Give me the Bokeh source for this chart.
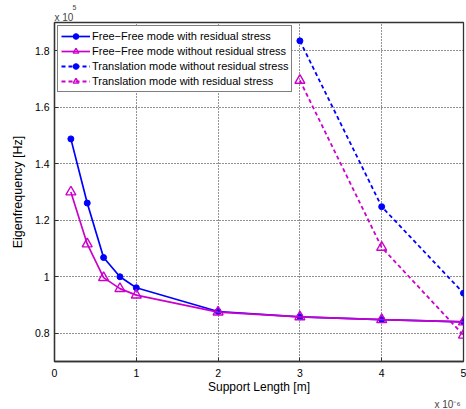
from bokeh.plotting import figure
from bokeh.models import Legend, LegendItem, Title, FixedTicker
from bokeh.embed import file_html
from bokeh.resources import INLINE

# Support length in units of 1e-6 m, eigenfrequency in units of 1e5 Hz
x_ff = [0.2, 0.4, 0.6, 0.8, 1.0, 2.0, 3.0, 4.0, 5.0]
ff_with = [1.488, 1.261, 1.068, 1.000, 0.961, 0.877, 0.858, 0.848, 0.840]
ff_without = [1.300, 1.116, 0.997, 0.958, 0.935, 0.875, 0.858, 0.848, 0.840]
x_tr = [3.0, 4.0, 5.0]
tr_without = [1.835, 1.248, 0.942]
tr_with = [1.695, 1.104, 0.793]

x_ticks = [0, 1, 2, 3, 4, 5]
y_ticks = [0.8, 1.0, 1.2, 1.4, 1.6, 1.8]
y_tick_labels = ["0.8", "1", "1.2", "1.4", "1.6", "1.8"]

labels = ["Free\u2212Free mode with residual stress",
          "Free\u2212Free mode without residual stress",
          "Translation mode without residual stress",
          "Translation mode with residual stress"]

BLUE = "#0000ff"
MAG = "#cc00cc"
FONT = "Liberation Sans"

p = figure(width=466, height=409, x_range=(0, 5), y_range=(0.7, 1.9),
           output_backend="svg", toolbar_location=None, title=None,
           min_border_left=54, min_border_right=3, min_border_top=22, min_border_bottom=43)
p.background_fill_color = "white"
p.border_fill_color = "white"
p.outline_line_color = "#333333"
p.outline_line_width = 1.3

p.xaxis.ticker = FixedTicker(ticks=x_ticks)
p.yaxis.ticker = FixedTicker(ticks=y_ticks)
p.yaxis.major_label_overrides = {t: l for t, l in zip(y_ticks, y_tick_labels)}
for ax in (p.xaxis, p.yaxis):
    ax.major_tick_in = 4
    ax.major_tick_out = 0
    ax.minor_tick_in = 0
    ax.minor_tick_out = 0
    ax.axis_line_color = "#333333"
    ax.axis_line_width = 1.3
    ax.major_tick_line_color = "#333333"
    ax.major_label_text_font = FONT
    ax.major_label_text_font_size = "10.5px"
    ax.major_label_text_color = "black"
    ax.axis_label_text_font = FONT
    ax.axis_label_text_font_size = "12px"
    ax.axis_label_text_font_style = "normal"
    ax.axis_label_text_color = "black"
p.xaxis.axis_label = "Support Length [m]"
p.yaxis.axis_label = "Eigenfrequency [Hz]"
p.yaxis.axis_label_text_font_size = "12.5px"
p.xaxis.major_label_standoff = 7
p.yaxis.major_label_standoff = 5
p.xaxis.axis_label_standoff = 0
p.yaxis.axis_label_standoff = 7

p.grid.grid_line_color = "black"
p.grid.grid_line_dash = "1 2"
p.grid.grid_line_alpha = 0.85

l1 = p.line(x_ff, ff_with, line_color=BLUE, line_width=1.7)
s1 = p.scatter(x_ff, ff_with, marker="circle", size=6, fill_color=BLUE, line_color=BLUE)
l2 = p.line(x_ff, ff_without, line_color=MAG, line_width=1.7)
s2 = p.scatter(x_ff, ff_without, marker="triangle", size=10, fill_color=None, line_color=MAG, line_width=1.4)
l3 = p.line(x_tr, tr_without, line_color=BLUE, line_width=1.8, line_dash="4 3")
s3 = p.scatter(x_tr, tr_without, marker="circle", size=6, fill_color=BLUE, line_color=BLUE)
l4 = p.line(x_tr, tr_with, line_color=MAG, line_width=1.8, line_dash="4 3")
s4 = p.scatter(x_tr, tr_with, marker="triangle", size=10, fill_color=None, line_color=MAG, line_width=1.4)

legend = Legend(items=[LegendItem(label=labels[0], renderers=[l1, s1]),
                       LegendItem(label=labels[1], renderers=[l2, s2]),
                       LegendItem(label=labels[2], renderers=[l3, s3]),
                       LegendItem(label=labels[3], renderers=[l4, s4])],
                location="top_left")
legend.margin = 3
legend.padding = 3
legend.spacing = 1
legend.label_height = 14
legend.glyph_height = 14
legend.glyph_width = 29
legend.label_standoff = 2
legend.label_text_font = FONT
legend.label_text_font_size = "11px"
legend.label_text_color = "black"
legend.border_line_color = "black"
legend.border_line_width = 1
legend.background_fill_alpha = 1
p.add_layout(legend)

# multiplier annotations
p.add_layout(Title(text="x 10", align="left", text_font=FONT, text_font_size="10px",
                   text_font_style="normal", standoff=0, offset=0), "above")
p.add_layout(Title(text="5", align="left", text_font=FONT, text_font_size="7px",
                   text_font_style="normal", standoff=0, offset=18), "above")
p.add_layout(Title(text="x 10\u207b\u2076", align="right", text_font=FONT, text_font_size="10px",
                   text_font_style="normal", standoff=0, offset=3), "below")

open("out.html", "w").write(file_html(p, INLINE))
